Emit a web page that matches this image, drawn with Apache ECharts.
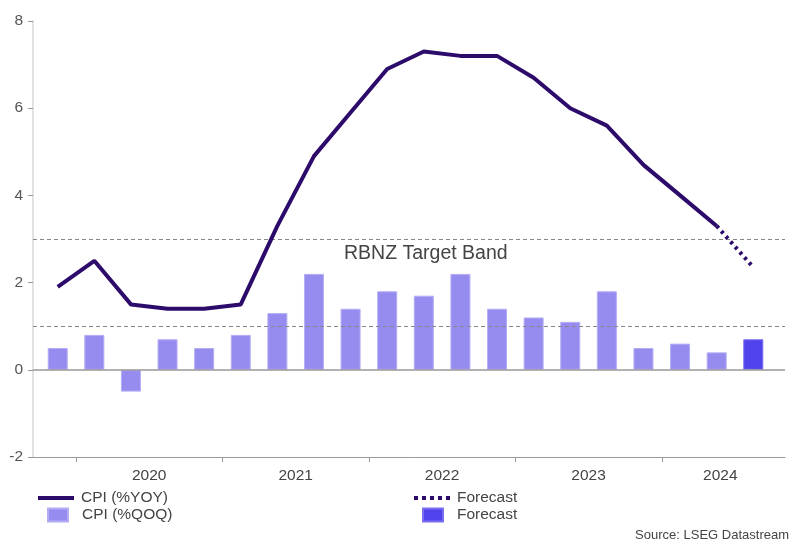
<!DOCTYPE html>
<html>
<head>
<meta charset="utf-8">
<script src="https://cdn.jsdelivr.net/npm/echarts@6/dist/echarts.min.js"></script>
<style>
html,body{margin:0;padding:0;background:#fff;}
#c{width:801px;height:547px;}
</style>
</head>
<body>
<div id="c"></div>
<script>
// ---- data ----
const quarters = ['2019Q4','2020Q1','2020Q2','2020Q3','2020Q4','2021Q1','2021Q2','2021Q3','2021Q4',
  '2022Q1','2022Q2','2022Q3','2022Q4','2023Q1','2023Q2','2023Q3','2023Q4','2024Q1','2024Q2','2024Q3'];
const yoy = [1.9,2.5,1.5,1.4,1.4,1.5,3.3,4.9,5.9,6.9,7.3,7.2,7.2,6.7,6.0,5.6,4.7,4.0,3.3];
const yoyForecast = [3.3, 2.35];        // 2024Q2 (last actual) -> 2024Q3 forecast
const qoq = [0.5,0.8,-0.5,0.7,0.5,0.8,1.3,2.2,1.4,1.8,1.7,2.2,1.4,1.2,1.1,1.8,0.5,0.6,0.4];
const qoqForecast = [0.7];              // 2024Q3
const yearLabels = ['2020','2021','2022','2023','2024'];
const targetBand = [1, 3];

// ---- derived ----
const yoyData = yoy.map((v,i)=>[i,v]);
const yoyFcData = yoyForecast.map((v,k)=>[yoy.length-1+k, v]);
const qoqData = qoq.map((v,i)=>[i,v]);
const qoqFcData = qoqForecast.map((v,k)=>[qoq.length+k, v]);
const yearTicks = [], yearCenters = [];
yearLabels.forEach(y=>{
  const idx = quarters.map((q,i)=>q.startsWith(y)?i:-1).filter(i=>i>=0);
  yearTicks.push(idx[0]-0.5);
  yearCenters.push(idx.reduce((a,b)=>a+b,0)/idx.length + (idx.length<4?0.1:0));
});

const FONT = "'Liberation Sans', Arial, sans-serif";
const LINE = '#2c0b6b', BAR = '#968cf0', BARF = '#5143ec';
const SOLID_ICON = 'path://M0,0h36v4h-36z';
const DOT_ICON = 'path://M0,0h4v4h-4z M8,0h4v4h-4z M16,0h4v4h-4z M24,0h4v4h-4z M32,0h4v4h-4z';
const legText = {color:'#444',fontSize:15.5,fontFamily:FONT};

const chart = echarts.init(document.getElementById('c'), null, {renderer:'canvas'});
chart.setOption({
  animation:false,
  backgroundColor:'#fff',
  textStyle:{fontFamily:FONT},
  grid:{left:33,right:16,top:21,bottom:90,containLabel:false},
  xAxis:{
    type:'value', min:-0.675, max:19.866,
    splitLine:{show:false},
    axisLine:{show:true,onZero:false,lineStyle:{color:'#999',width:1}},
    axisTick:{show:true,length:5,lineStyle:{color:'#999'},customValues:yearTicks},
    axisLabel:{show:true,color:'#444',fontSize:15.5,fontFamily:FONT,margin:11,
      customValues:yearCenters,
      formatter:(v)=>{const k=yearCenters.findIndex(c=>Math.abs(c-v)<1e-6);return k>=0?yearLabels[k]:'';}}
  },
  yAxis:{
    type:'value', min:-2, max:8, interval:2,
    splitLine:{show:false},
    axisLine:{show:true,onZero:false,lineStyle:{color:'#e2e2e2',width:2}},
    axisTick:{show:true,length:5,lineStyle:{color:'#999'}},
    axisLabel:{color:'#555',fontSize:15.5,fontFamily:FONT,margin:10}
  },
  legend:[
    {left:33,top:485,itemWidth:36,itemHeight:4,data:[{name:'CPI (%YOY)',icon:SOLID_ICON}],textStyle:Object.assign({padding:[0,0,0,2]},legText),selectedMode:false},
    {left:42,top:502,itemWidth:20,itemHeight:13,data:[{name:'CPI (%QOQ)',icon:'rect'}],textStyle:Object.assign({padding:[0,0,0,9]},legText),selectedMode:false},
    {left:409,top:485,itemWidth:36,itemHeight:4,data:[{name:'Forecast (YOY)',icon:DOT_ICON}],formatter:()=>'Forecast',textStyle:Object.assign({padding:[0,0,0,2]},legText),selectedMode:false},
    {left:417,top:502,itemWidth:20,itemHeight:13,data:[{name:'Forecast (QOQ)',icon:'rect'}],formatter:()=>'Forecast',textStyle:Object.assign({padding:[0,0,0,9]},legText),selectedMode:false}
  ],
  graphic:[
    {type:'text',left:344,top:244,style:{text:'RBNZ Target Band',fill:'#444',font:"19.5px 'Liberation Sans', Arial, sans-serif"}},
    {type:'text',right:12,top:529,style:{text:'Source: LSEG Datastream',fill:'#444',font:"13px 'Liberation Sans', Arial, sans-serif"}}
  ],
  series:[
    {name:'CPI (%QOQ)',type:'bar',data:qoqData,barWidth:20,barGap:'-100%',
      itemStyle:{color:BAR,borderColor:'#b4adf5',borderWidth:1},
      markLine:{silent:true,symbol:'none',label:{show:false},
        data:[
          {yAxis:0,lineStyle:{color:'#999',type:'solid',width:1.5}},
          {yAxis:targetBand[0],lineStyle:{color:'#888',type:[4,3],width:1}},
          {yAxis:targetBand[1],lineStyle:{color:'#888',type:[4,3],width:1}}
        ]}},
    {name:'Forecast (QOQ)',type:'bar',data:qoqFcData,barWidth:20,barGap:'-100%',itemStyle:{color:BARF,borderColor:'#7a6ff0',borderWidth:1}},
    {name:'CPI (%YOY)',type:'line',data:yoyData,symbol:'none',lineStyle:{color:LINE,width:4},itemStyle:{color:LINE},z:5},
    {name:'Forecast (YOY)',type:'line',data:yoyFcData,symbol:'none',lineStyle:{color:LINE,width:4,type:[3,4]},itemStyle:{color:LINE},z:5}
  ]
});
</script>
</body>
</html>
